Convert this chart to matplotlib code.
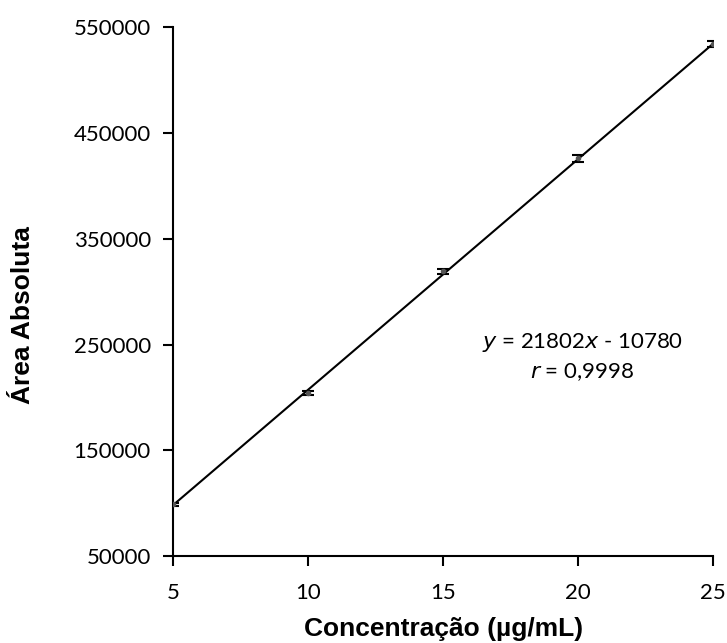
import matplotlib.pyplot as plt
import numpy as np

# curva de calibração
conc = [5, 10, 15, 20, 25]
area = [99200, 204000, 319000, 426000, 534000]
area_dp = [1500, 2000, 2000, 3500, 2500]

slope = 21802
intercept = -10780

fig = plt.figure(figsize=(7.27, 6.43), dpi=100)
ax = fig.add_axes([0.238, 0.135, 0.743, 0.823])

xl = np.array([5, 25])
ax.plot(xl, slope * xl + intercept, color='black', lw=1.5, zorder=2)
ax.errorbar(conc, area, yerr=area_dp, fmt='o', ms=3, color='#555555',
            ecolor='black', elinewidth=1, capsize=4, capthick=1.5, zorder=3)

ax.set_xlim(5, 25)
ax.set_ylim(50000, 550000)
ax.set_xticks([5, 10, 15, 20, 25])
ax.set_yticks(np.arange(50000, 550001, 100000))
ax.spines['top'].set_visible(False)
ax.spines['right'].set_visible(False)
for s in ['left', 'bottom']:
    ax.spines[s].set_linewidth(1.5)
ax.tick_params(direction='out', length=7, width=1.5, labelsize=16, pad=9)
ax.tick_params(axis='x', pad=12)
for lab in ax.get_xticklabels() + ax.get_yticklabels():
    lab.set_family('Lato')

ax.set_xlabel('Concentração (µg/mL)', fontsize=19, fontweight='bold',
              family='Liberation Sans')
ax.set_ylabel('Área Absoluta', fontsize=19, fontweight='bold',
              family='Liberation Sans')
ax.xaxis.set_label_coords(0.5, -0.114)
ax.yaxis.set_label_coords(-0.255, 0.456)

ax.text(20.15, 238000, '$\\it{y}$ = 21802$\\it{x}$ - 10780\n$\\it{r}$ = 0,9998',
        ha='center', va='center', fontsize=16, family='Lato', linespacing=1.45)

fig.savefig('out.png', dpi=100)
